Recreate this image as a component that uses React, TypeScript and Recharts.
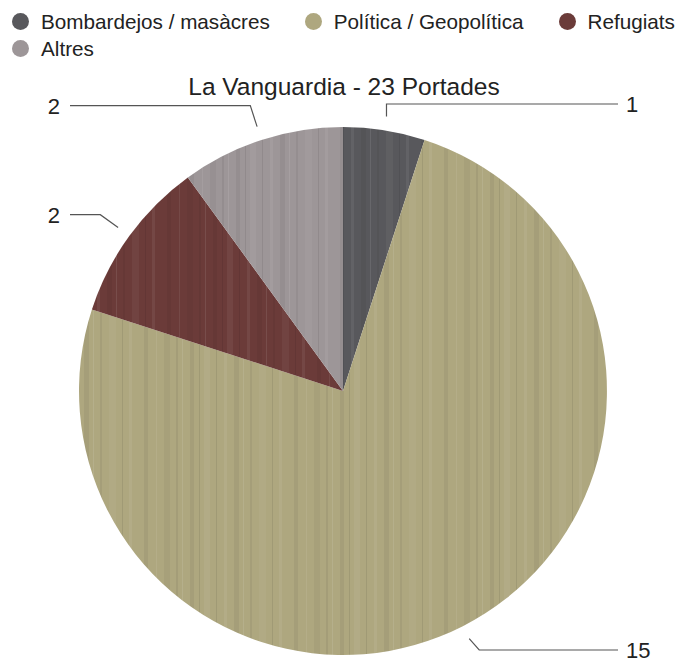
import { PieChart, Pie, Cell, Legend } from "recharts";

const categories = ["Bombardejos / masàcres", "Política / Geopolítica", "Refugiats", "Altres"];
const counts = [1, 15, 2, 2];
const chartTitle = "La Vanguardia - 23 Portades";

const woodColors = ["#58585c", "#aea77f", "#6b3b39", "#9d9698"];
const font = "'Liberation Sans', Arial, Helvetica, sans-serif";

const data = categories.map((name, i) => ({ name, value: counts[i] }));

// soft vertical grain streaks laid over each slice colour: [x, width, opacity, light?]
const grain = [
  [3, 2, 0.06, 0], [9, 1, 0.09, 1], [17, 4, 0.05, 0], [26, 1, 0.08, 0],
  [31, 6, 0.05, 1], [43, 1, 0.08, 0], [51, 3, 0.06, 1], [61, 5, 0.05, 0],
  [70, 1, 0.09, 1], [77, 2, 0.05, 0], [86, 7, 0.04, 1], [99, 1, 0.08, 0],
  [106, 3, 0.06, 1], [121, 4, 0.05, 0], [133, 1, 0.07, 1], [141, 6, 0.04, 0],
];

const WoodPatterns = () => (
  <defs>
    {woodColors.map((c, i) => (
      <pattern key={i} id={`wood-${i}`} patternUnits="userSpaceOnUse" width={150} height={664} x={i * 23}>
        <rect width={150} height={664} fill={c} />
        {grain.map(([x, w, o, light], j) => (
          <rect key={j} x={x} y={0} width={w} height={664} fill={light ? "#ffffff" : "#000000"} opacity={o} />
        ))}
      </pattern>
    ))}
  </defs>
);

const renderLegend = () => {
  const item = (i: number, last: boolean) => (
    <div key={i} style={{ display: "flex", alignItems: "center", marginRight: last ? 0 : 35 }}>
      <span
        style={{
          width: 17,
          height: 17,
          borderRadius: "50%",
          background: woodColors[i],
          display: "inline-block",
          marginRight: 12,
          flexShrink: 0,
        }}
      />
      <span>{categories[i]}</span>
    </div>
  );
  return (
    <div style={{ fontFamily: font, fontSize: 20.7, color: "#222", paddingLeft: 12, lineHeight: "27px" }}>
      <div style={{ display: "flex", whiteSpace: "nowrap" }}>
        {item(0, false)}
        {item(1, false)}
        {item(2, true)}
      </div>
      <div style={{ display: "flex", whiteSpace: "nowrap" }}>{item(3, true)}</div>
    </div>
  );
};

const RAD = Math.PI / 180;

const renderLabel = (p: any) => {
  const { cx, cy, midAngle, outerRadius, value } = p;
  const cos = Math.cos(-midAngle * RAD);
  const sin = Math.sin(-midAngle * RAD);
  const sx = cx + (outerRadius + 14) * cos;
  const sy = cy + (outerRadius + 14) * sin;
  let ex = cx + (outerRadius + 36) * cos;
  let ey = cy + (outerRadius + 36) * sin;
  if (ey < 104) {
    ex = sx;
    ey = 104;
  }
  if (ey > 650) ey = 650;
  const right = cos >= 0;
  const hx = right ? 618 : 70;
  return (
    <g>
      <path d={`M${sx},${sy}L${ex},${ey}L${hx},${ey}`} stroke="#555" strokeWidth={1.2} fill="none" />
      <text
        x={right ? hx + 8 : hx - 10}
        y={ey}
        dy="0.36em"
        textAnchor={right ? "start" : "end"}
        fill="#222"
        fontSize={22}
        fontFamily={font}
      >
        {value}
      </text>
    </g>
  );
};

export default function App() {
  return (
    <div style={{ position: "absolute", left: 0, top: 0, background: "#fff" }}>
      <PieChart width={679} height={664} margin={{ top: 0, right: 0, bottom: 0, left: 0 }}>
        <WoodPatterns />
        <Legend
          verticalAlign="top"
          align="left"
          content={renderLegend}
          wrapperStyle={{ top: 8, left: 0, width: 679 }}
        />
        <text x={344} y={95} textAnchor="middle" fontSize={24.5} fill="#222" fontFamily={font}>
          {chartTitle}
        </text>
        <Pie
          data={data}
          dataKey="value"
          nameKey="name"
          cx={343}
          cy={337}
          outerRadius={264}
          startAngle={90}
          endAngle={-270}
          stroke="none"
          label={renderLabel}
          labelLine={false}
          isAnimationActive={false}
        >
          {data.map((d, i) => (
            <Cell key={d.name} fill={`url(#wood-${i})`} />
          ))}
        </Pie>
      </PieChart>
    </div>
  );
}
